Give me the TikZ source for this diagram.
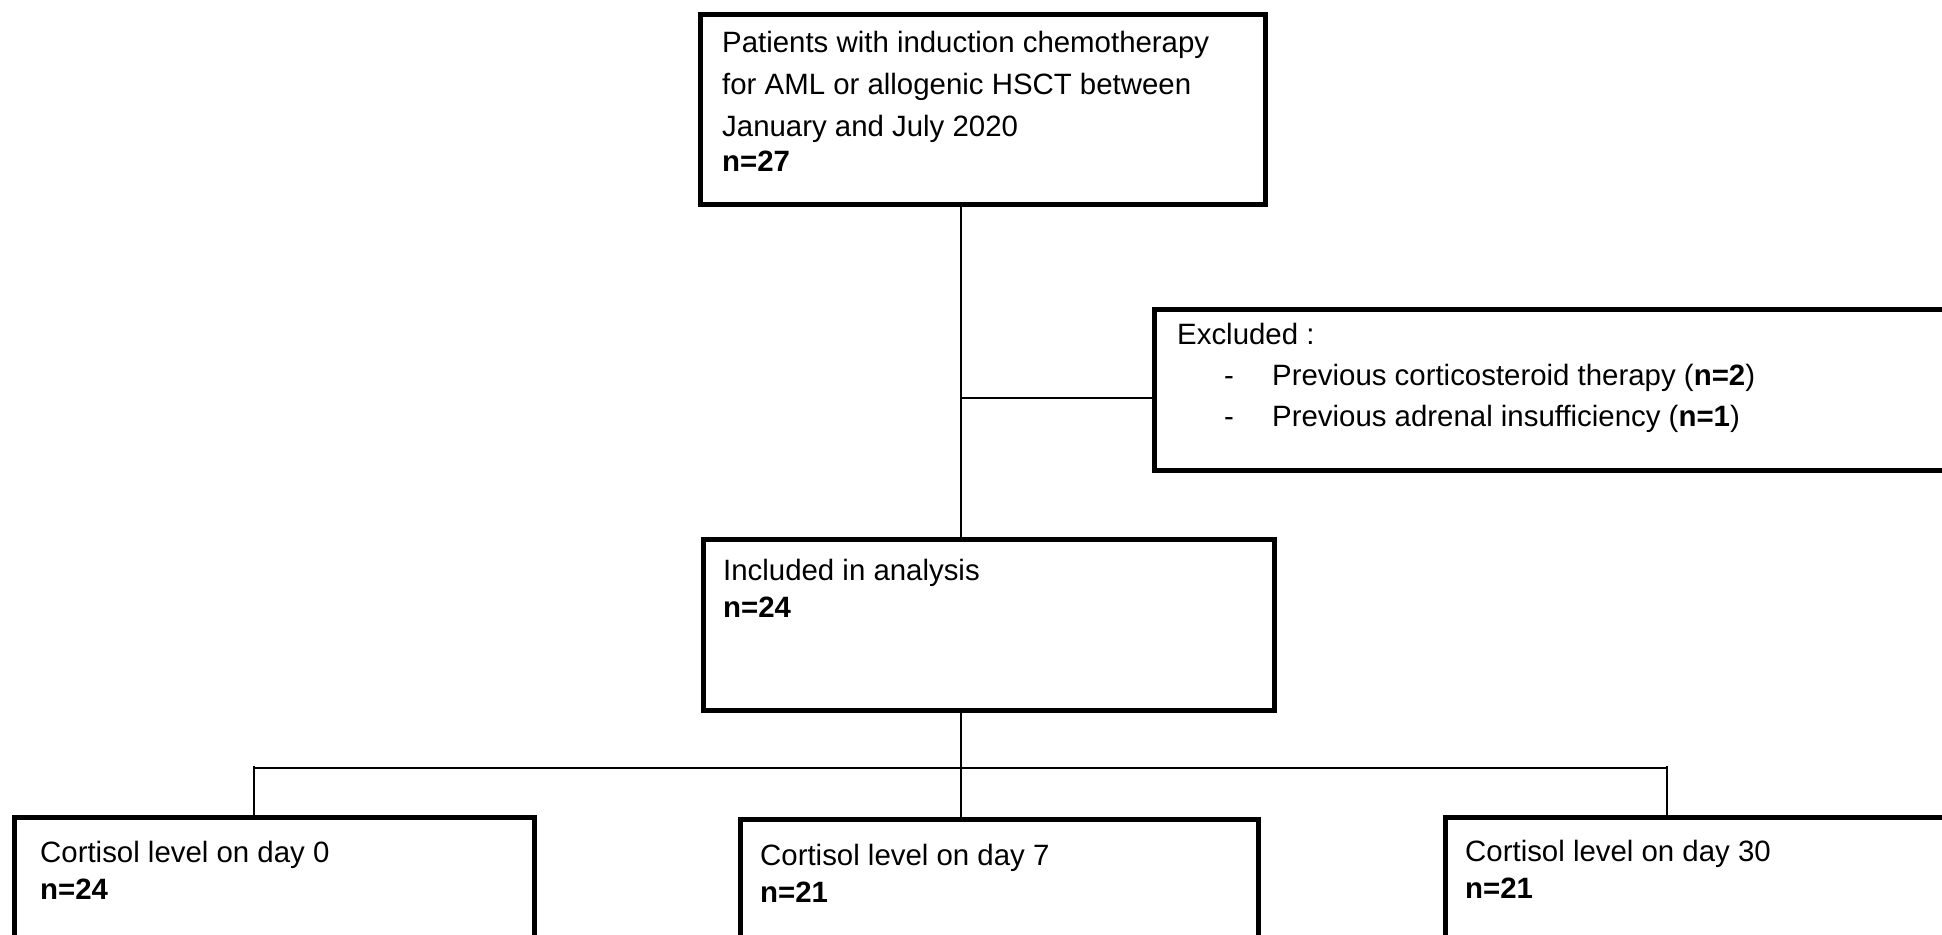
\documentclass[tikz,border=0pt]{standalone}
\usepackage{fontspec}
\setmainfont{Liberation Sans}
\begin{document}
\begin{tikzpicture}[x=1pt,y=-1pt,
  box/.style={draw=black,line width=5pt,fill=white,anchor=north west,inner sep=0pt},
  txt/.style={anchor=north west,inner sep=0pt,align=left,font=\fontsize{29.4}{42}\selectfont},
  conn/.style={draw=black,line width=1.6pt}]
\useasboundingbox (0,0) rectangle (1942,934);
\clip (0,0) rectangle (1942,934);
% boxes
\node[box,minimum width=565pt,minimum height=190pt] (top) at (698,12) {};
\node[box,minimum width=810pt,minimum height=161pt] (ex) at (1152,307) {};
\node[box,minimum width=571pt,minimum height=171pt] (inc) at (701,537) {};
\node[box,minimum width=520pt,minimum height=200pt] (d0) at (12,815) {};
\node[box,minimum width=518pt,minimum height=200pt] (d7) at (738,817) {};
\node[box,minimum width=520pt,minimum height=200pt] (d30) at (1443,815) {};
% texts
\node[txt] (ttop) at (722,31) {Patients with induction chemotherapy\\for AML or allogenic HSCT between\\January and July 2020\\[-7pt]\textbf{n=27}};
\node[txt] (tex) at (1177,323) {Excluded :};
\node[txt] (te1) at (1272,364) {Previous corticosteroid therapy (\textbf{n=2})};
\node[txt] (te2) at (1272,405) {Previous adrenal insufficiency (\textbf{n=1})};
\node[txt,anchor=base west] (tb1) at ([xshift=-48pt]te1.base west) {-};
\node[txt,anchor=base west] (tb2) at ([xshift=-48pt]te2.base west) {-};
\node[txt] (tinc) at (723,559) {Included in analysis\\[-5pt]\textbf{n=24}};
\node[txt] (td0) at (40,841) {Cortisol level on day 0\\[-5pt]\textbf{n=24}};
\node[txt] (td7) at (760,844) {Cortisol level on day 7\\[-5pt]\textbf{n=21}};
\node[txt] (td30) at (1465,840) {Cortisol level on day 30\\[-5pt]\textbf{n=21}};
% connectors
\coordinate (j) at (961,398);
\coordinate (bar) at (961,768);
\coordinate (barL) at (254,768);
\coordinate (barR) at (1667,768);
\draw[conn] (top.south -| j) -- (inc.north -| j);
\draw[conn] (j) -- (j -| ex.west);
\draw[conn] (inc.south -| bar) -- (d7.north -| bar);
\draw[conn] (barL) -- (barR);
\draw[conn] ([yshift=2pt]barL) -- (d0.north -| barL);
\draw[conn] ([yshift=2pt]barR) -- (d30.north -| barR);
\end{tikzpicture}
\end{document}
